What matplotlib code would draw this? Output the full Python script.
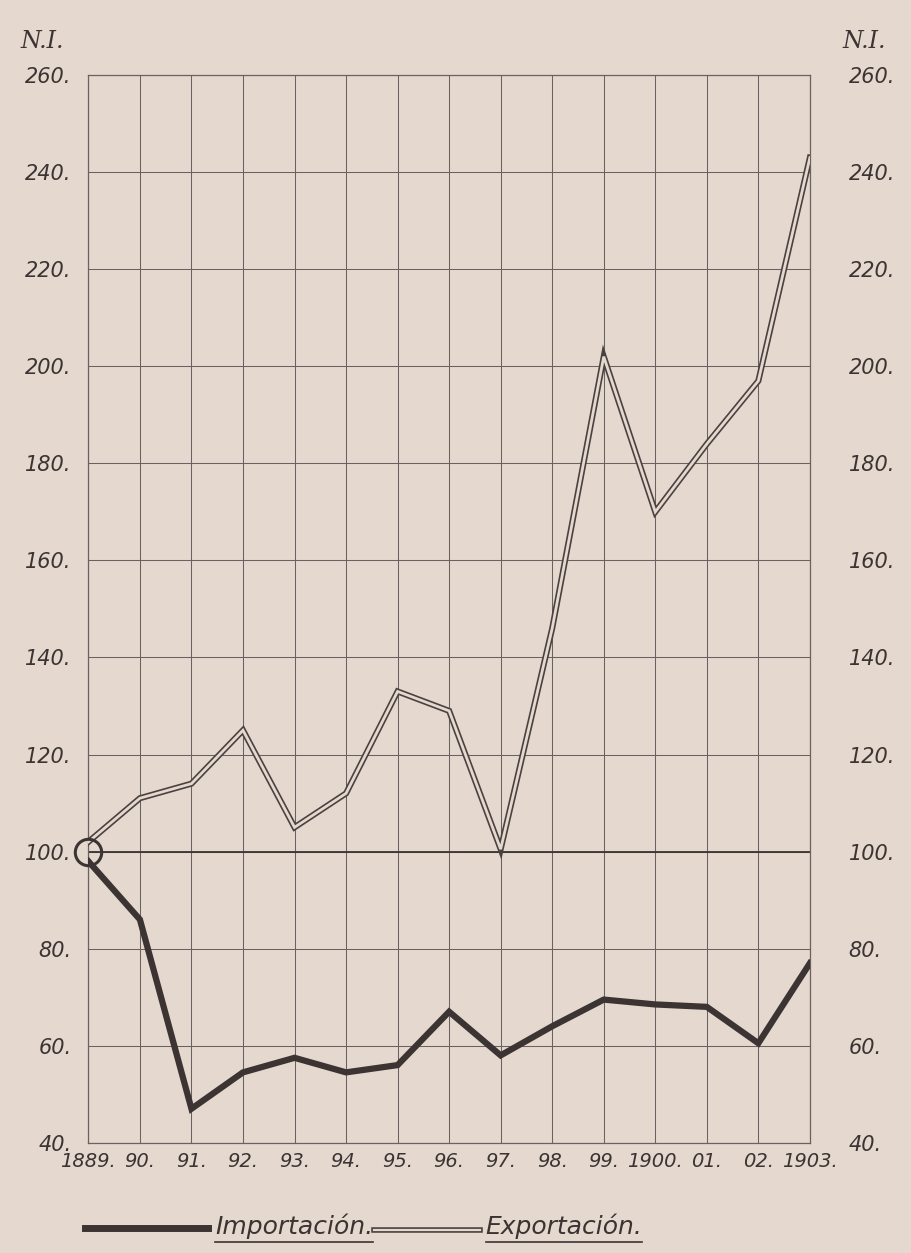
import matplotlib
matplotlib.use("Agg")
import matplotlib.pyplot as plt
import matplotlib.patheffects as pe
import matplotlib.transforms as mtransforms
from matplotlib.lines import Line2D

# data (index numbers, 1889 = 100)
years = [1889, 1890, 1891, 1892, 1893, 1894, 1895, 1896, 1897, 1898, 1899, 1900, 1901, 1902, 1903]
year_labels = ["1889.", "90.", "91.", "92.", "93.", "94.", "95.", "96.", "97.", "98.",
               "99.", "1900.", "01.", "02.", "1903."]
importacion = [98, 86, 47, 54.5, 57.5, 54.5, 56, 67, 58, 64, 69.5, 68.5, 68, 60.5, 77]
exportacion = [102, 111, 114, 125, 105, 112, 133, 129, 100.5, 146, 202, 170, 184, 197, 243]
y_ticks = [40, 60, 80, 100, 120, 140, 160, 180, 200, 220, 240, 260]

paper = "#e5d8cf"
ink = "#3b3432"
grid_ink = "#6a6260"
font = dict(family="DejaVu Sans", style="italic", color=ink)

fig = plt.figure(figsize=(9.11, 12.53), dpi=100, facecolor=paper)
ax = fig.add_axes([0.097, 0.088, 0.792, 0.852])
ax.set_facecolor(paper)

ax.set_xlim(years[0], years[-1])
ax.set_ylim(40, 260)
ax.set_xticks(years)
ax.set_xticklabels(year_labels, fontsize=14, **font)
ax.set_yticks(y_ticks)
ax.set_yticklabels([f"{v}." for v in y_ticks], fontsize=15, **font)
ax.tick_params(length=0)
ax.tick_params(axis="x", pad=7)
ax.tick_params(axis="y", labelright=True, pad=12)

# right-hand labels: same style, a bit further from the frame
shift = mtransforms.ScaledTranslation(16 / 72, 0, fig.dpi_scale_trans)
for t in ax.yaxis.get_major_ticks():
    t.label2.set_fontsize(15)
    t.label2.set_fontstyle("italic")
    t.label2.set_color(ink)
    t.label2.set_transform(t.label2.get_transform() + shift)

ax.grid(True, color=grid_ink, linewidth=0.75)
for s in ax.spines.values():
    s.set_color(grid_ink)
    s.set_linewidth(0.9)
ax.axhline(100, color=ink, linewidth=1.3)

# importacion: thick dark line
ax.plot(years, importacion, color=ink, linewidth=4.5, solid_joinstyle="miter", zorder=4)

# exportacion: hollow double line
ax.plot(years, exportacion, color=paper, linewidth=2.0, solid_joinstyle="miter", zorder=5,
        path_effects=[pe.Stroke(linewidth=4.4, foreground="#4a4240"), pe.Normal()])

# small circle where both series start
ax.plot([years[0]], [100], marker="o", markersize=19, markerfacecolor="none",
        markeredgecolor=ink, markeredgewidth=2.2, clip_on=False, zorder=6)

fig.text(0.022, 0.962, "N.I.", fontsize=17, family="DejaVu Serif", style="italic", color=ink)
fig.text(0.925, 0.962, "N.I.", fontsize=17, family="DejaVu Serif", style="italic", color=ink)

# legend drawn by hand at the bottom
ly = 0.015
fig.add_artist(Line2D([0.093, 0.228], [ly + 0.005, ly + 0.005], color=ink, linewidth=5))
t1 = fig.text(0.236, ly, "Importación.", fontsize=18, **font)
fig.add_artist(Line2D([0.41, 0.527], [ly + 0.003, ly + 0.003], color=paper, linewidth=1.6,
                      path_effects=[pe.Stroke(linewidth=4.0, foreground="#4a4240"), pe.Normal()]))
t2 = fig.text(0.533, ly, "Exportación.", fontsize=18, **font)

# underline both legend words
fig.canvas.draw()
inv = fig.transFigure.inverted()
for t in (t1, t2):
    bb = t.get_window_extent()
    (x0, y0), (x1, y1) = inv.transform([[bb.x0, bb.y0], [bb.x1, bb.y1]])
    fig.add_artist(Line2D([x0, x1], [y0 - 0.002, y0 - 0.002], color=ink, linewidth=1.2))

fig.savefig("out.png", dpi=100, facecolor=paper)
